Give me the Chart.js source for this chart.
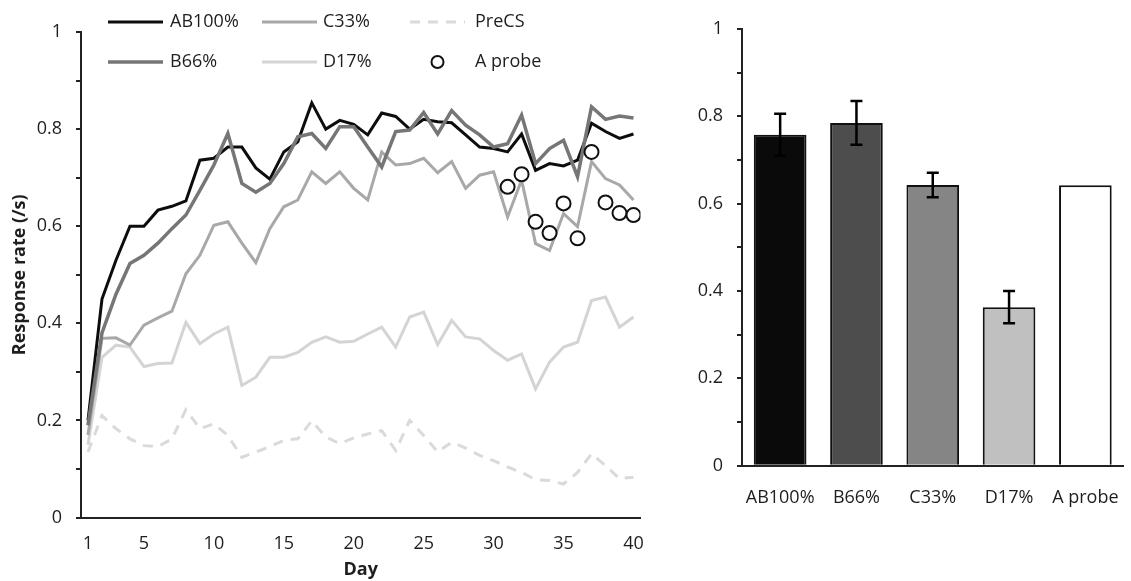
<!DOCTYPE html>
<html>
<head>
<meta charset="utf-8">
<script src="https://cdn.jsdelivr.net/npm/chart.js@4.4.1/dist/chart.umd.min.js"></script>
<style>
  html, body { margin: 0; padding: 0; background: #fff; overflow: hidden; }
  #left { position: absolute; left: 0; top: 0; }
  #right { position: absolute; left: 660px; top: 0; }
</style>
</head>
<body>
<canvas id="left" width="660" height="581"></canvas>
<canvas id="right" width="480" height="581"></canvas>
<script>
// ===== DATA =====
const days = [1,2,3,4,5,6,7,8,9,10,11,12,13,14,15,16,17,18,19,20,
              21,22,23,24,25,26,27,28,29,30,31,32,33,34,35,36,37,38,39,40];
const dayTicks = [1,5,10,15,20,25,30,35,40];
const yTicks = [0,0.1,0.2,0.3,0.4,0.5,0.6,0.7,0.8,0.9,1];
const yTickLabels = ['0','','0.2','','0.4','','0.6','','0.8','','1'];

const ab100 = [0.20,0.45,0.53,0.60,0.60,0.633,0.641,0.652,0.736,0.740,
               0.763,0.763,0.72,0.697,0.753,0.774,0.854,0.80,0.818,0.81,
               0.788,0.833,0.826,0.80,0.82,0.815,0.813,0.788,0.763,0.76,
               0.753,0.79,0.715,0.729,0.724,0.736,0.812,0.795,0.781,0.79];
const b66 = [0.19,0.38,0.46,0.523,0.54,0.565,0.595,0.623,0.674,0.726,
             0.791,0.688,0.67,0.688,0.729,0.784,0.791,0.76,0.805,0.805,
             0.763,0.722,0.795,0.798,0.834,0.79,0.838,0.808,0.788,0.763,
             0.77,0.829,0.729,0.76,0.777,0.702,0.846,0.82,0.827,0.823];
const c33 = [0.17,0.369,0.37,0.355,0.396,0.411,0.425,0.502,0.54,0.602,
             0.609,0.565,0.525,0.595,0.64,0.654,0.712,0.688,0.712,0.678,
             0.654,0.753,0.726,0.729,0.74,0.71,0.733,0.678,0.705,0.712,
             0.619,0.695,0.564,0.55,0.626,0.599,0.733,0.698,0.685,0.654];
const d17 = [0.15,0.33,0.355,0.351,0.311,0.317,0.318,0.402,0.358,0.378,
             0.392,0.272,0.289,0.33,0.33,0.34,0.361,0.372,0.361,0.363,
             0.378,0.392,0.351,0.413,0.423,0.356,0.406,0.372,0.368,0.344,
             0.324,0.337,0.265,0.32,0.351,0.361,0.447,0.454,0.392,0.413];
const preCS = [0.135,0.21,0.183,0.162,0.148,0.146,0.162,0.222,0.183,0.193,
               0.169,0.124,0.135,0.146,0.159,0.162,0.199,0.166,0.152,0.164,
               0.172,0.179,0.138,0.2,0.169,0.135,0.155,0.143,0.128,0.117,
               0.104,0.093,0.078,0.076,0.069,0.093,0.131,0.107,0.08,0.083];
const probeDays = [31,32,33,34,35,36,37,38,39,40];
const probeValues = [0.681,0.707,0.609,0.586,0.647,0.575,0.753,0.649,0.627,0.623];

const barLabels = ['AB100%','B66%','C33%','D17%','A probe'];
const barMeans = [0.758,0.785,0.643,0.363,0.642];
const barErrors = [0.048,0.05,0.028,0.037,null];
const barColors = ['#0a0a0a','#4d4d4d','#858585','#c0c0c0','#ffffff'];

const FONT = "'Open Sans', 'DejaVu Sans', sans-serif";
const TEXT = '#1e1e1e';

// legend drawn in two rows of three, like the original
const gridLegend = {
  id: 'gridLegend',
  afterDraw(chart, args, opts) {
    const ctx = chart.ctx;
    ctx.save();
    ctx.font = '18px ' + FONT;
    ctx.fillStyle = TEXT;
    ctx.textBaseline = 'middle';
    opts.items.forEach(it => {
      const ds = chart.data.datasets[it.ds];
      const x0 = opts.cols[it.col];
      const y = opts.rows[it.row];
      if (ds.showLine === false) {
        ctx.beginPath();
        ctx.lineWidth = ds.pointBorderWidth;
        ctx.strokeStyle = ds.pointBorderColor;
        ctx.fillStyle = ds.pointBackgroundColor;
        ctx.arc(x0 + opts.lineLen / 2, y, 6, 0, Math.PI * 2);
        ctx.fill();
        ctx.stroke();
      } else {
        ctx.beginPath();
        ctx.lineWidth = ds.borderWidth;
        ctx.strokeStyle = ds.borderColor;
        ctx.setLineDash(ds.borderDash || []);
        ctx.moveTo(x0, y);
        ctx.lineTo(x0 + opts.lineLen, y);
        ctx.stroke();
        ctx.setLineDash([]);
      }
      ctx.fillStyle = TEXT;
      ctx.fillText(ds.label, opts.textX[it.col], y);
    });
    ctx.restore();
  }
};

// error bars for the right panel
const errorBars = {
  id: 'errorBars',
  afterDatasetsDraw(chart) {
    const ctx = chart.ctx;
    const meta = chart.getDatasetMeta(0);
    const yScale = chart.scales.y;
    ctx.save();
    ctx.strokeStyle = '#000';
    ctx.lineWidth = 2.5;
    meta.data.forEach((bar, i) => {
      const e = barErrors[i];
      if (e == null) return;
      const yTop = yScale.getPixelForValue(barMeans[i] + e);
      const yBot = yScale.getPixelForValue(barMeans[i] - e);
      ctx.beginPath();
      ctx.moveTo(bar.x, yTop); ctx.lineTo(bar.x, yBot);
      ctx.moveTo(bar.x - 6, yTop); ctx.lineTo(bar.x + 6, yTop);
      ctx.moveTo(bar.x - 6, yBot); ctx.lineTo(bar.x + 6, yBot);
      ctx.stroke();
    });
    ctx.restore();
  }
};

function yAxis(width) {
  return {
    min: 0, max: 1,
    afterBuildTicks: s => { s.ticks = yTicks.map(v => ({ value: v })); },
    afterFit: s => { s.width = width; },
    ticks: {
      callback: (v, i) => yTickLabels[i],
      font: { family: FONT, size: 18 }, color: TEXT, padding: 14
    },
    grid: { drawOnChartArea: false, drawTicks: true, tickLength: 5, color: '#222', lineWidth: 2 },
    border: { display: true, color: '#222', width: 2 }
  };
}

// ===== LEFT: daily response rates =====
new Chart(document.getElementById('left'), {
  type: 'line',
  data: {
    labels: days,
    datasets: [
      { label: 'AB100%', data: ab100, borderColor: '#0d0d0d', borderWidth: 3, order: 2 },
      { label: 'C33%', data: c33, borderColor: '#a8a8a8', borderWidth: 3, order: 3 },
      { label: 'PreCS', data: preCS, borderColor: '#dadada', borderWidth: 3, borderDash: [10, 8], order: 5 },
      { label: 'B66%', data: b66, borderColor: '#767676', borderWidth: 3.5, order: 1 },
      { label: 'D17%', data: d17, borderColor: '#d4d4d4', borderWidth: 3, order: 4 },
      { label: 'A probe', data: probeDays.map((d, i) => ({ x: d, y: probeValues[i] })),
        showLine: false, pointRadius: 7, pointBorderWidth: 2,
        pointBorderColor: '#111', pointBackgroundColor: '#fff', order: 0 }
    ]
  },
  options: {
    responsive: false,
    animation: false,
    events: [],
    layout: { padding: { left: 0, top: 32, right: 18, bottom: 0 } },
    elements: { point: { radius: 0 }, line: { tension: 0 } },
    plugins: {
      legend: { display: false },
      tooltip: { enabled: false },
      gridLegend: {
        cols: [108, 262, 410], textX: [170, 323, 475], rows: [22, 62], lineLen: 55,
        items: [
          { ds: 0, col: 0, row: 0 }, { ds: 1, col: 1, row: 0 }, { ds: 2, col: 2, row: 0 },
          { ds: 3, col: 0, row: 1 }, { ds: 4, col: 1, row: 1 }, { ds: 5, col: 2, row: 1 }
        ]
      }
    },
    scales: {
      x: {
        type: 'linear', min: 0.5, max: 40.5,
        afterBuildTicks: s => { s.ticks = dayTicks.map(v => ({ value: v })); },
        afterFit: s => { s.height = 63.5; },
        ticks: { font: { family: FONT, size: 18 }, color: TEXT, padding: 16, maxRotation: 0 },
        grid: { display: false, drawTicks: false },
        border: { display: true, color: '#222', width: 2 },
        title: { display: true, text: 'Day', font: { family: FONT, size: 18, weight: 'bold' },
                 color: TEXT, padding: 0 }
      },
      y: Object.assign(yAxis(81), {
        title: { display: true, text: 'Response rate (/s)',
                 font: { family: FONT, size: 18, weight: 'bold' }, color: TEXT,
                 padding: { top: 9, bottom: 0 } }
      })
    }
  },
  plugins: [gridLegend]
});

// ===== RIGHT: mean response rates =====
new Chart(document.getElementById('right'), {
  type: 'bar',
  data: {
    labels: barLabels,
    datasets: [{
      data: barMeans,
      backgroundColor: barColors,
      borderColor: '#111',
      borderWidth: 2,
      categoryPercentage: 1,
      barPercentage: 0.69
    }]
  },
  options: {
    responsive: false,
    animation: false,
    events: [],
    layout: { padding: { left: 0, top: 29, right: 4.5, bottom: 0 } },
    plugins: { legend: { display: false }, tooltip: { enabled: false } },
    scales: {
      x: {
        afterFit: s => { s.height = 115.3; },
        ticks: { font: { family: FONT, size: 18 }, color: TEXT, padding: 21, maxRotation: 0 },
        grid: { display: false, drawTicks: false },
        border: { display: true, color: '#222', width: 2 }
      },
      y: yAxis(82)
    }
  },
  plugins: [errorBars]
});
</script>
</body>
</html>
